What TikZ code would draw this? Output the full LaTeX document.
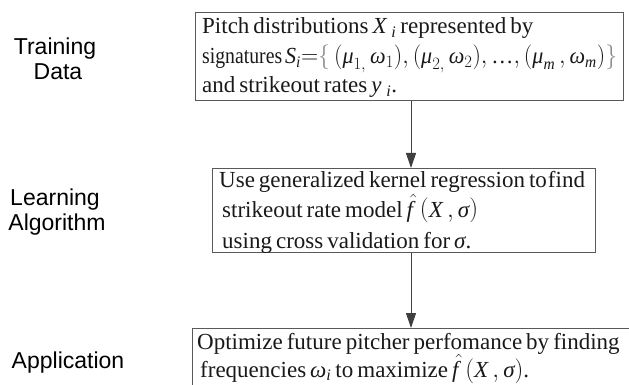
\documentclass[tikz,border=0pt]{standalone}
\usepackage{fontspec}
\usepackage{graphicx}
\setmainfont[WordSpace=0.7]{Liberation Serif}
\newfontfamily\labelfont{Liberation Sans}
\usetikzlibrary{arrows.meta}
\newcommand\gk[1]{\mbox{\itshape #1}}
\newcommand\fhat{\skew{5}{\hat}{\mathit{f}}}
\begin{document}
\begin{tikzpicture}[x=1pt,y=-1pt,
  box/.style={draw=black!65, line width=0.9pt},
  txt/.style={anchor=base west, inner sep=0pt, text=black!90, font=\fontsize{23}{27}\selectfont},
  lbl/.style={anchor=base, inner sep=0pt, font=\labelfont\fontsize{23}{25}\selectfont},
  flow/.style={draw=black!75, line width=1pt, -{Triangle[length=15pt,width=10pt]}}]
\useasboundingbox (0,0) rectangle (629,385);
\clip (0,0) rectangle (629,385);
% left labels
\node[lbl] (l1a) at (55,55) {Training};
\node[lbl] (l1b) at (58,80) {Data};
\node[lbl] (l2a) at (55,205) {Learning};
\node[lbl] (l2b) at (57,230) {Algorithm};
\node[lbl] (l3) at (68,368) {Application};
% boxes
\node[box, anchor=north west, minimum width=428pt, minimum height=88pt, inner sep=0pt] (b1) at (195,12) {};
\node[box, anchor=north west, minimum width=383pt, minimum height=84pt, inner sep=0pt] (b2) at (212,168) {};
\node[box, anchor=north west, minimum width=460pt, minimum height=80pt, inner sep=0pt] (b3) at (192,328) {};
% box 1 text
\node[txt] (t11) at (202,34) {Pitch distributions $\mathit{X}_{\;\mathit{i}}$ represented by};
\node[txt] (t12) at (202,64) {\resizebox{80pt}{\height}{signatures}\kern3pt\resizebox{332pt}{\height}{$\mathit{S}_{\mathit{i}}{=}{\color{black!45}\{}\,\bigl(\gk{μ}_{1,}\,\gk{ω}_{1}\bigr),\bigl(\gk{μ}_{2,}\,\gk{ω}_{2}\bigr),\mbox{…},\bigl(\gk{μ}_{\mathit{m}}\,,\gk{ω}_{\mathit{m}}\bigr){\color{black!45}\}}$}};
\node[txt] (t13) at (202,93) {and strikeout rates $\mathit{y}_{\;\mathit{i}}$.};
% box 2 text
\node[txt] (t21) at (219,187) {Use generalized kernel regression to\kern1pt find};
\node[txt] (t22) at (222,217) {strikeout rate model\kern4pt$\fhat\;\bigl(\mathit{X}\,,\gk{σ}\bigr)$};
\node[txt] (t23) at (222,248) {using cross validation for $\gk{σ}$.};
% box 3 text
\node[txt] (t31) at (197,349) {Optimize future pitcher perfomance by finding};
\node[txt] (t32) at (200,377) {frequencies $\gk{ω}_{\mathit{i}}$ to maximize\kern4pt$\fhat\;\bigl(\mathit{X}\,,\gk{σ}\bigr)$.};
% connectors
\draw[flow] (b1.south -| 411,0) -- (b2.north -| 411,0);
\draw[flow] (b2.south -| 411,0) -- (b3.north -| 411,0);
\end{tikzpicture}
\end{document}
